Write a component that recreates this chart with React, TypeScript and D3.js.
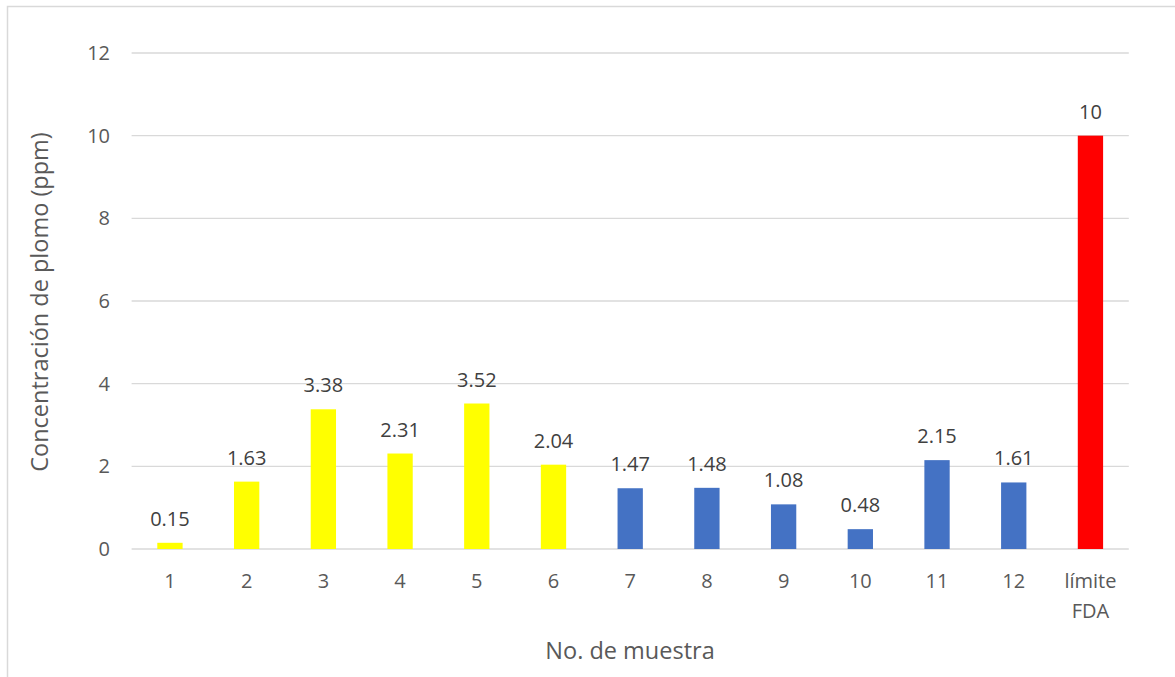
import React from "react";
import * as d3 from "d3";

const categories = ["1", "2", "3", "4", "5", "6", "7", "8", "9", "10", "11", "12", "límite FDA"];
const values = [0.15, 1.63, 3.38, 2.31, 3.52, 2.04, 1.47, 1.48, 1.08, 0.48, 2.15, 1.61, 10];
const labels = ["0.15", "1.63", "3.38", "2.31", "3.52", "2.04", "1.47", "1.48", "1.08", "0.48", "2.15", "1.61", "10"];
const colors = ["#FFFF00", "#FFFF00", "#FFFF00", "#FFFF00", "#FFFF00", "#FFFF00", "#4472C4", "#4472C4", "#4472C4", "#4472C4", "#4472C4", "#4472C4", "#FF0000"];
const yTicks = [0, 2, 4, 6, 8, 10, 12];

const W = 1175, H = 677;
const FONT = "'Open Sans', 'Liberation Sans', sans-serif";

export default function App() {
  const x = d3.scaleBand<string>().domain(categories).range([131.6, 1128.8]).paddingInner(0.67).paddingOuter(0.335);
  const y = d3.scaleLinear().domain([0, 12]).range([549, 53]);
  const bw = x.bandwidth();
  return (
    <svg width={W} height={H} style={{ position: "absolute", left: 0, top: 0 }} fontFamily={FONT}>
      <rect x={7.5} y={6.5} width={W} height={H} fill="#fff" stroke="#d9d9d9" strokeWidth={1.5} />
      {yTicks.map((t) => (
        <g key={t}>
          <line x1={131.6} x2={1128.8} y1={y(t)} y2={y(t)} stroke="#d9d9d9" strokeWidth={1.3} />
          <text x={110} y={y(t)} dy="0.35em" textAnchor="end" fontSize={20} fill="#595959">{t}</text>
        </g>
      ))}
      {categories.map((c, i) => {
        const cx = (x(c) as number) + bw / 2;
        const parts = c.split(" ");
        return (
          <g key={c}>
            <rect x={x(c)} y={y(values[i])} width={bw} height={y(0) - y(values[i])} fill={colors[i]} />
            <text x={cx} y={y(values[i]) - 17} textAnchor="middle" fontSize={20} fill="#404040">{labels[i]}</text>
            {parts.map((p, k) => (
              <text key={k} x={cx} y={581 + k * 30} dy="0.35em" textAnchor="middle" fontSize={20} fill="#595959">{p}</text>
            ))}
          </g>
        );
      })}
      <text x={630} y={651} dy="0.35em" textAnchor="middle" fontSize={23.5} fill="#595959">No. de muestra</text>
      <text transform={`translate(40,302) rotate(-90)`} dy="0.35em" textAnchor="middle" fontSize={23.5} fill="#595959">Concentración de plomo (ppm)</text>
    </svg>
  );
}
